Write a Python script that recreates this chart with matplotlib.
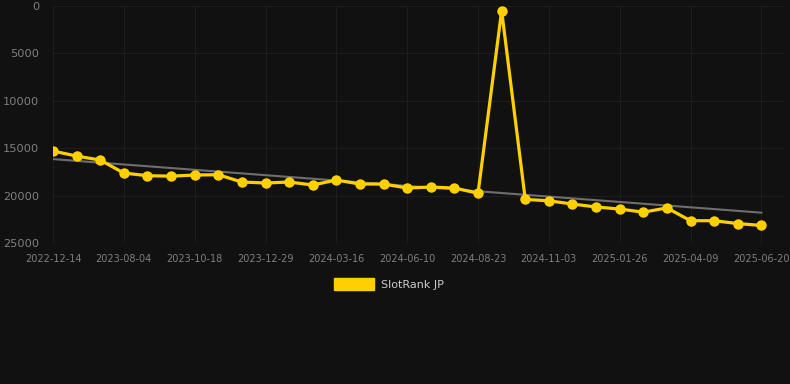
import matplotlib
matplotlib.use('Agg')
import matplotlib.pyplot as plt
import matplotlib.patches as mpatches
import numpy as np

# ── Data ──────────────────────────────────────────────────────────────────────
tick_dates = ['2022-12-14', '2023-08-04', '2023-10-18', '2023-12-29', '2024-03-16',
              '2024-06-10', '2024-08-23', '2024-11-03', '2025-01-26', '2025-04-09',
              '2025-06-20']

rank = [15300, 15830, 16250, 17620, 17900, 17950, 17830, 17800, 18570, 18670,
        18570, 18880, 18360, 18780, 18780, 19200, 19100, 19200, 19750, 500,
        20400, 20550, 20890, 21200, 21420, 21750, 21300, 22650, 22650, 22950,
        23150]

trend_start = 16150
trend_end = 21800

# ── Style ─────────────────────────────────────────────────────────────────────
BG = '#111111'
GOLD = '#ffd000'
GRID = '#1d1d1d'
TXT = '#7f7f7f'

fig = plt.figure(figsize=(7.9, 3.84), dpi=100, facecolor=BG)
ax = fig.add_axes([53 / 790, 1 - 243 / 384, (785 - 53) / 790, (243 - 6) / 384])
ax.set_facecolor(BG)

x = np.arange(len(rank))
ax.plot([x[0], x[-1]], [trend_start, trend_end], color='#6e6e6e', linewidth=1.5, zorder=2)
ax.plot(x, rank, color=GOLD, linewidth=2.3, marker='o', markersize=7.5,
        markeredgewidth=0, zorder=3)

ax.set_ylim(25000, 0)
ax.set_xlim(0, 31)
ax.set_yticks([0, 5000, 10000, 15000, 20000, 25000])
ax.set_xticks(x[::3])
ax.set_xticklabels(tick_dates)

ax.grid(True, color=GRID, linewidth=0.8)
for s in ax.spines.values():
    s.set_visible(False)
ax.tick_params(axis='y', length=0, pad=10, labelsize=8.2, labelcolor=TXT)
ax.tick_params(axis='x', length=0, pad=8, labelsize=7, labelcolor=TXT)

fig.legend(handles=[mpatches.Patch(color=GOLD, label='SlotRank JP')],
           loc='center', bbox_to_anchor=(389 / 790, 1 - 284 / 384),
           frameon=False, fontsize=8, labelcolor='#cccccc',
           handlelength=3.6, handleheight=1.2, handletextpad=0.6)

fig.savefig('out.png', dpi=100, facecolor=BG)
